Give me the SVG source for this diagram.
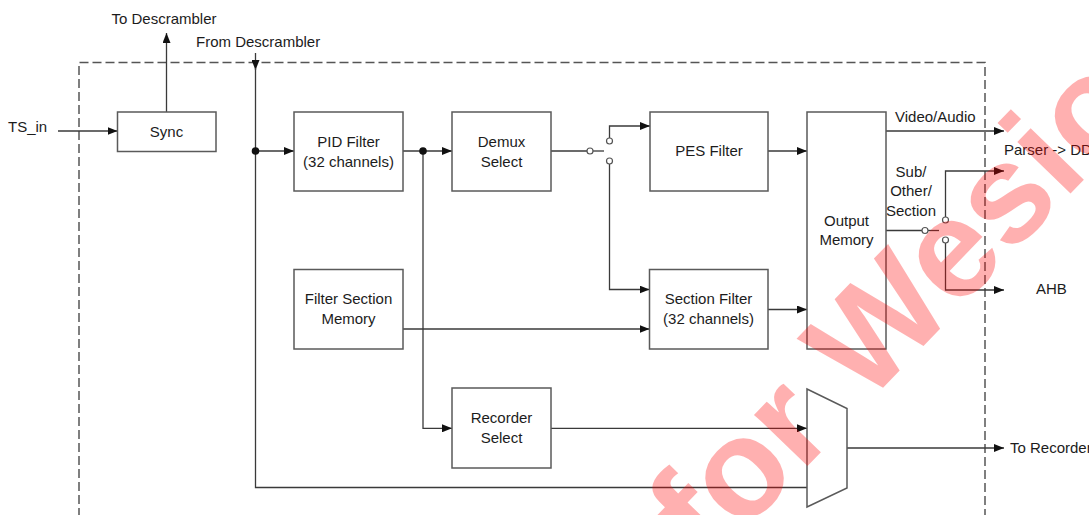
<svg xmlns="http://www.w3.org/2000/svg" width="1089" height="515" viewBox="0 0 1089 515">
<defs>
<marker id="arr" markerWidth="10" markerHeight="8" refX="10" refY="4" orient="auto" markerUnits="userSpaceOnUse"><path d="M0,0 L10,4 L0,8 z" fill="#111"/></marker>
<style>
.box{fill:#fff;stroke:#5a5a5a;stroke-width:1.5}
.ln{fill:none;stroke:#3a3a3a;stroke-width:1.3}
.ar{fill:none;stroke:#3a3a3a;stroke-width:1.3;marker-end:url(#arr)}
.sw{fill:#fff;stroke:#555;stroke-width:1.2}
.dot{fill:#111}
text{font-family:"Liberation Sans",Arial,sans-serif;font-size:15px;fill:#1c1c1c}
.c{text-anchor:middle}
.wm{font-family:"Liberation Sans",Arial,sans-serif;font-weight:bold;font-size:140px;fill:#ff0000;fill-opacity:0.31}
</style>
</defs>
<rect width="1089" height="515" fill="#fff"/>
<path d="M79,530 V62.5 H985 V530" fill="none" stroke="#555" stroke-width="1.5" stroke-dasharray="9,4"/>

<g id="labels">
<text x="8" y="132">TS_in</text>
<text x="164" y="24" class="c">To Descrambler</text>
<text x="196" y="47">From Descrambler</text>
<text x="895" y="122">Video/Audio</text>
<text x="1004" y="155">Parser -&gt; DDR</text>
<text x="911" y="177" class="c">Sub/</text>
<text x="911" y="196" class="c">Other/</text>
<text x="911" y="216" class="c">Section</text>
<text x="1036" y="294">AHB</text>
<text x="1010" y="453">To Recorder</text>
</g>

<g id="connectors">
<path class="ar" d="M58,131 H117.5"/>
<path class="ar" d="M166.5,112 V33"/>
<path class="ar" d="M255.5,53 V70"/>
<path class="ln" d="M255.5,68 V487.5 H807"/>
<path class="ar" d="M255.5,151 H294"/>
<circle class="dot" cx="255.5" cy="151" r="3.8"/>
<path class="ar" d="M403,151 H452"/>
<path class="ar" d="M423,151 V428.3 H452"/>
<circle class="dot" cx="423" cy="151" r="3.8"/>
<path class="ln" d="M551,151 H587"/>
<path class="ln" d="M593,151 H604"/>
<circle class="sw" cx="590" cy="151" r="3"/>
<path class="ar" d="M609.5,138 V126 H650"/>
<circle class="sw" cx="609.5" cy="141" r="3"/>
<path class="ar" d="M609.5,164 V289.5 H649.5"/>
<circle class="sw" cx="609.5" cy="161" r="3"/>
<path class="ar" d="M403,329 H649.5"/>
<path class="ar" d="M768,151 H807"/>
<path class="ar" d="M768,309.5 H807"/>
<path class="ar" d="M551,428.3 H807"/>
<path class="ar" d="M886,131 H1004"/>
<path class="ln" d="M886,230.5 H922"/>
<path class="ln" d="M928,230.5 H939"/>
<circle class="sw" cx="925" cy="230.5" r="3"/>
<path class="ar" d="M945.5,217 V171 H1004"/>
<circle class="sw" cx="945.5" cy="220" r="3"/>
<path class="ar" d="M945.5,243 V290 H1004"/>
<circle class="sw" cx="945.5" cy="240" r="3"/>
<path class="ar" d="M847,448 H1004"/>
</g>

<g id="sync"><rect class="box" x="117.5" y="112" width="98.5" height="39.5"/><text x="166.5" y="136.5" class="c">Sync</text></g>
<g id="pid-filter"><rect class="box" x="294" y="112" width="109" height="79"/><text x="348.5" y="146.5" class="c">PID Filter</text><text x="348.5" y="166.5" class="c">(32 channels)</text></g>
<g id="demux-select"><rect class="box" x="452" y="112" width="99" height="79"/><text x="501.5" y="146.5" class="c">Demux</text><text x="501.5" y="166.5" class="c">Select</text></g>
<g id="pes-filter"><rect class="box" x="650" y="112" width="118" height="79"/><text x="709" y="156" class="c">PES Filter</text></g>
<g id="filter-section-memory"><rect class="box" x="294" y="269.5" width="109" height="79.5"/><text x="348.5" y="304" class="c">Filter Section</text><text x="348.5" y="324" class="c">Memory</text></g>
<g id="section-filter"><rect class="box" x="649.5" y="269.5" width="118.5" height="79.5"/><text x="708.5" y="304.3" class="c">Section Filter</text><text x="708.5" y="323.5" class="c">(32 channels)</text></g>
<g id="output-memory"><rect class="box" x="807" y="112" width="79" height="237"/><text x="846.5" y="225.7" class="c">Output</text><text x="846.5" y="245" class="c">Memory</text></g>
<g id="recorder-select"><rect class="box" x="452" y="388" width="99" height="80"/><text x="501.5" y="422.7" class="c">Recorder</text><text x="501.5" y="443.3" class="c">Select</text></g>
<g id="mux"><polygon class="box" points="807,389 847,408.5 847,488 807,507"/></g>

<g id="watermark"><text class="wm" transform="translate(709,568) rotate(-46)">for Wesion</text></g>
</svg>
